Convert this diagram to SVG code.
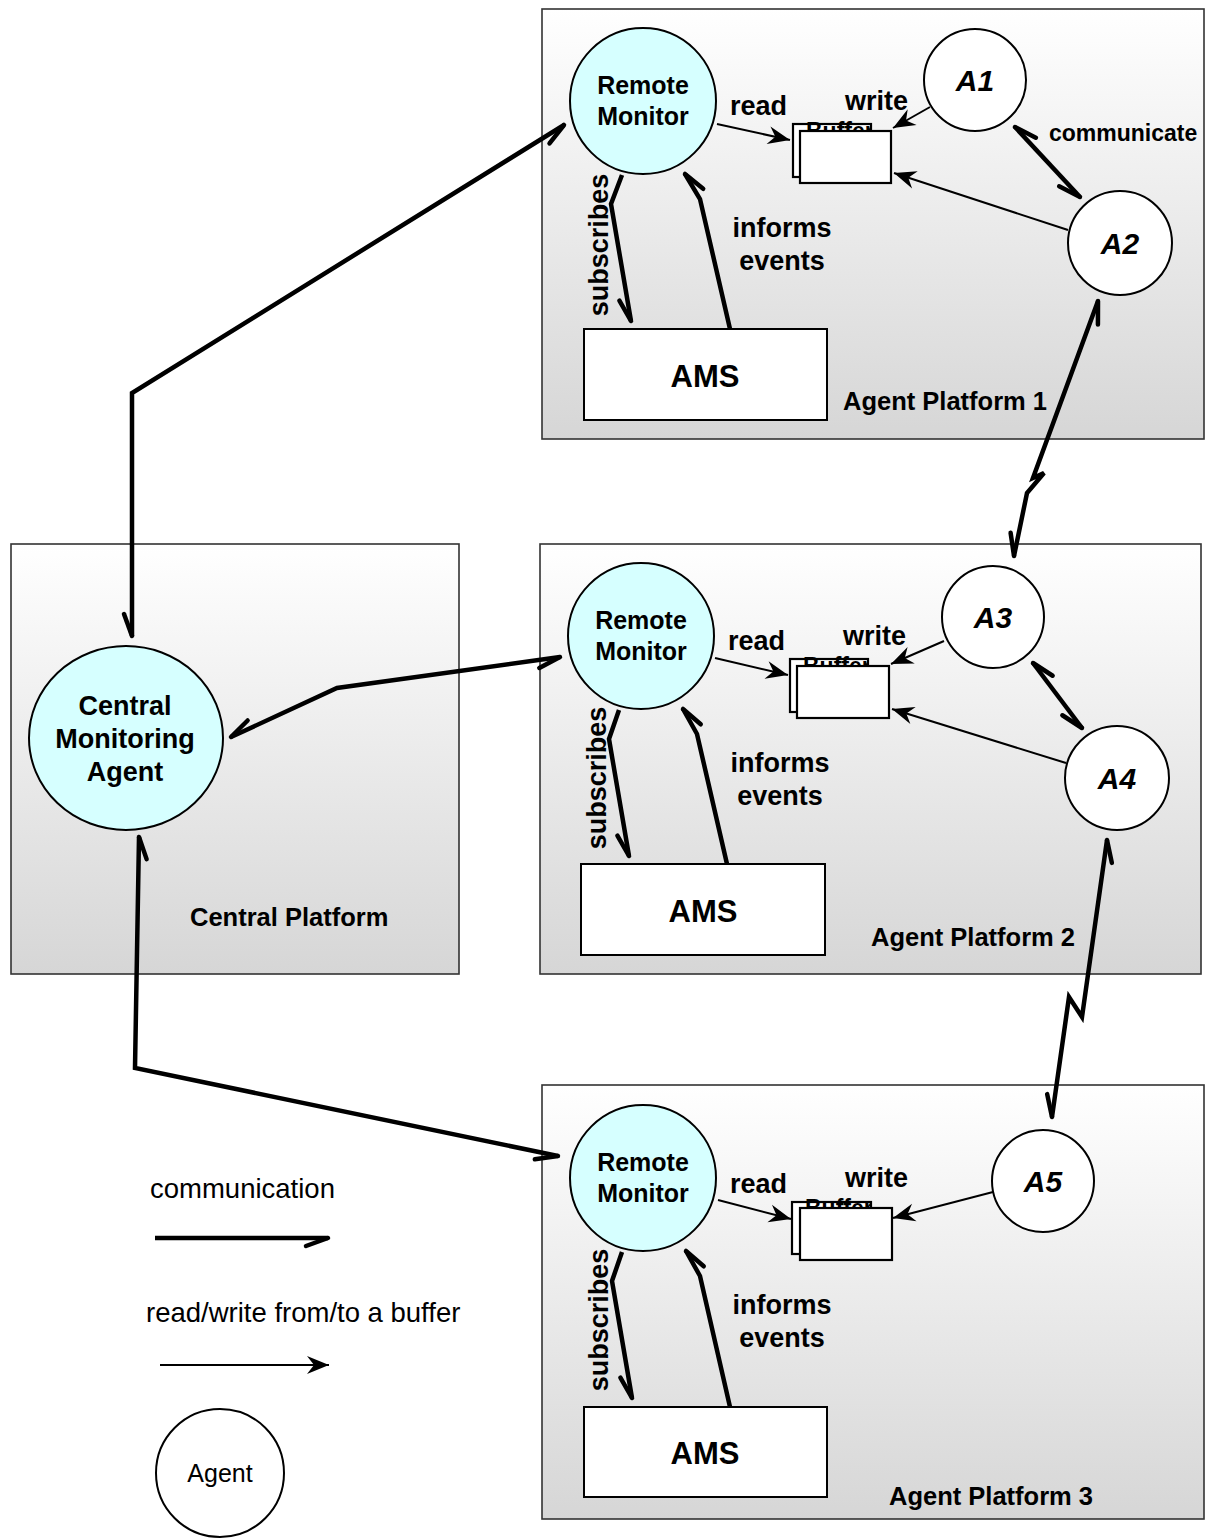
<svg xmlns="http://www.w3.org/2000/svg" width="1216" height="1538" viewBox="0 0 1216 1538">
<style>
.plat{stroke:#333;stroke-width:1.6;fill:url(#pg)}
.rm{fill:#d6ffff;stroke:#000;stroke-width:2}
.ag{fill:#fff;stroke:#000;stroke-width:2}
.box{fill:#fff;stroke:#000;stroke-width:2}
.buf{fill:#fff;stroke:#000;stroke-width:2.2}
.b{font-family:"Liberation Sans",Arial,sans-serif;font-weight:bold;fill:#000}
.r{font-family:"Liberation Sans",Arial,sans-serif;fill:#000}
.c{text-anchor:middle}
.thick{fill:none;stroke:#000;stroke-width:4.5;stroke-linejoin:miter;marker-start:url(#half);marker-end:url(#half)}
.thick1{fill:none;stroke:#000;stroke-width:4.5;marker-end:url(#half)}
.thin{fill:none;stroke:#000;stroke-width:2;marker-end:url(#tri)}
</style>
<defs>
<linearGradient id="pg" x1="0" y1="0" x2="0" y2="1">
<stop offset="0" stop-color="#ffffff"/>
<stop offset="1" stop-color="#d6d6d6"/>
</linearGradient>
<clipPath id="cb1"><rect x="793" y="118" width="78" height="59"/></clipPath>
<clipPath id="cb2"><rect x="790" y="653" width="78" height="59"/></clipPath>
<clipPath id="cb3"><rect x="792" y="1196" width="79" height="58"/></clipPath>
<marker id="half" markerUnits="userSpaceOnUse" orient="auto-start-reverse" viewBox="-30 -15 40 30" markerWidth="40" markerHeight="30" refX="0" refY="0" overflow="visible">
<path d="M0,0 L-22,8" stroke="#000" stroke-width="4.5" fill="none" stroke-linecap="round"/>
</marker>
<marker id="tri" markerUnits="userSpaceOnUse" orient="auto" viewBox="-30 -15 40 30" markerWidth="40" markerHeight="30" refX="0" refY="0" overflow="visible">
<path d="M0,0 L-22,-9 L-15,0 L-22,9 Z" fill="#000"/>
</marker>
</defs>

<g id="platform1">
<rect class="plat" x="542" y="9" width="662" height="430"/>
<text class="b" x="843" y="410" font-size="25.5">Agent Platform 1</text>
</g>
<g id="platform2">
<rect class="plat" x="540" y="544" width="661" height="430"/>
<text class="b" x="871" y="946" font-size="25.5">Agent Platform 2</text>
</g>
<g id="platform3">
<rect class="plat" x="542" y="1085" width="662" height="434"/>
<text class="b" x="889" y="1505" font-size="25.5">Agent Platform 3</text>
</g>
<g id="central-platform">
<rect class="plat" x="11" y="544" width="448" height="430"/>
<text class="b" x="190" y="926" font-size="25.5">Central Platform</text>
</g>

<g id="buffer1">
<rect class="buf" x="793" y="124" width="78" height="53"/>
<text class="b" x="806" y="139" font-size="23" clip-path="url(#cb1)">Buffer</text>
<rect class="buf" x="800" y="131" width="91" height="52"/>
</g>
<g id="buffer2">
<rect class="buf" x="790" y="659" width="78" height="53"/>
<text class="b" x="803" y="674" font-size="23" clip-path="url(#cb2)">Buffer</text>
<rect class="buf" x="797" y="666" width="92" height="52"/>
</g>
<g id="buffer3">
<rect class="buf" x="792" y="1202" width="79" height="52"/>
<text class="b" x="805" y="1216" font-size="23" clip-path="url(#cb3)">Buffer</text>
<rect class="buf" x="800" y="1208" width="92" height="52"/>
</g>

<g id="connectors">
<path class="thick" d="M132,636 L132,393 L564,125"/>
<path class="thick" d="M560,657 L337,688 L231,737"/>
<path class="thick" d="M139,837 L135,1068 L558,1156"/>
<path class="thick1" d="M622,175 L611,204 L631,321"/>
<path class="thick1" d="M730,329 L700,199 L685,174"/>
<path class="thick1" d="M619,710 L609,739 L629,856"/>
<path class="thick1" d="M727,864 L697,734 L683,709"/>
<path class="thick1" d="M622,1252 L612,1281 L632,1398"/>
<path class="thick1" d="M730,1407 L700,1276 L686,1251"/>
<path class="thick" d="M1015,127 L1080,197"/>
<path class="thick" d="M1033,663 L1082,728"/>
<path class="thick" d="M1098,301 L1033,478 L1044,473 L1027,493 L1014,556"/>
<path class="thick" d="M1107,840 L1082,1017 L1069,997 L1052,1117"/>
<path class="thin" d="M717,124 L790,140"/>
<path class="thin" d="M930,107 L893,128"/>
<path class="thin" d="M1068,230 L894,173"/>
<path class="thin" d="M715,658 L788,675"/>
<path class="thin" d="M944,641 L891,664"/>
<path class="thin" d="M1066,763 L892,709"/>
<path class="thin" d="M718,1200 L791,1219"/>
<path class="thin" d="M993,1192 L893,1218"/>
<path class="thick1" d="M155,1238 L328,1238"/>
<path class="thin" d="M160,1365 L329,1365"/>
</g>

<g id="rm1">
<circle class="rm" cx="643" cy="101" r="73"/>
<text class="b c" x="643" y="94" font-size="25">Remote</text>
<text class="b c" x="643" y="125" font-size="25">Monitor</text>
</g>
<g id="rm2">
<circle class="rm" cx="641" cy="636" r="73"/>
<text class="b c" x="641" y="629" font-size="25">Remote</text>
<text class="b c" x="641" y="660" font-size="25">Monitor</text>
</g>
<g id="rm3">
<circle class="rm" cx="643" cy="1178" r="73"/>
<text class="b c" x="643" y="1171" font-size="25">Remote</text>
<text class="b c" x="643" y="1202" font-size="25">Monitor</text>
</g>
<g id="cma">
<ellipse class="rm" cx="126" cy="738" rx="97" ry="92"/>
<text class="b c" x="125" y="715" font-size="27">Central</text>
<text class="b c" x="125" y="748" font-size="27">Monitoring</text>
<text class="b c" x="125" y="781" font-size="27">Agent</text>
</g>

<g id="a1"><circle class="ag" cx="975" cy="80" r="51"/><text class="b c" x="975" y="91" font-size="30" font-style="italic">A1</text></g>
<g id="a2"><circle class="ag" cx="1120" cy="243" r="52"/><text class="b c" x="1120" y="254" font-size="30" font-style="italic">A2</text></g>
<g id="a3"><circle class="ag" cx="993" cy="617" r="51"/><text class="b c" x="993" y="628" font-size="30" font-style="italic">A3</text></g>
<g id="a4"><circle class="ag" cx="1117" cy="778" r="52"/><text class="b c" x="1117" y="789" font-size="30" font-style="italic">A4</text></g>
<g id="a5"><circle class="ag" cx="1043" cy="1181" r="51"/><text class="b c" x="1043" y="1192" font-size="30" font-style="italic">A5</text></g>

<g id="ams1"><rect class="box" x="584" y="329" width="243" height="91"/><text class="b c" x="705" y="387" font-size="31">AMS</text></g>
<g id="ams2"><rect class="box" x="581" y="864" width="244" height="91"/><text class="b c" x="703" y="922" font-size="31">AMS</text></g>
<g id="ams3"><rect class="box" x="584" y="1407" width="243" height="90"/><text class="b c" x="705" y="1464" font-size="31">AMS</text></g>

<g id="labels">
<text class="b" x="730" y="115" font-size="27">read</text>
<text class="b" x="845" y="110" font-size="27">write</text>
<text class="b" x="1049" y="141" font-size="23">communicate</text>
<text class="b c" x="782" y="237" font-size="27">informs</text>
<text class="b c" x="782" y="270" font-size="27">events</text>
<text class="b c" transform="translate(608,245) rotate(-90)" font-size="27">subscribes</text>

<text class="b" x="728" y="650" font-size="27">read</text>
<text class="b" x="843" y="645" font-size="27">write</text>
<text class="b c" x="780" y="772" font-size="27">informs</text>
<text class="b c" x="780" y="805" font-size="27">events</text>
<text class="b c" transform="translate(606,778) rotate(-90)" font-size="27">subscribes</text>

<text class="b" x="730" y="1193" font-size="27">read</text>
<text class="b" x="845" y="1187" font-size="27">write</text>
<text class="b c" x="782" y="1314" font-size="27">informs</text>
<text class="b c" x="782" y="1347" font-size="27">events</text>
<text class="b c" transform="translate(608,1320) rotate(-90)" font-size="27">subscribes</text>
</g>

<g id="legend">
<text class="r" x="150" y="1198" font-size="27.5">communication</text>
<text class="r" x="146" y="1322" font-size="27.5">read/write from/to a buffer</text>
<circle class="ag" cx="220" cy="1473" r="64"/>
<text class="r c" x="220" y="1482" font-size="25">Agent</text>
</g>
</svg>
